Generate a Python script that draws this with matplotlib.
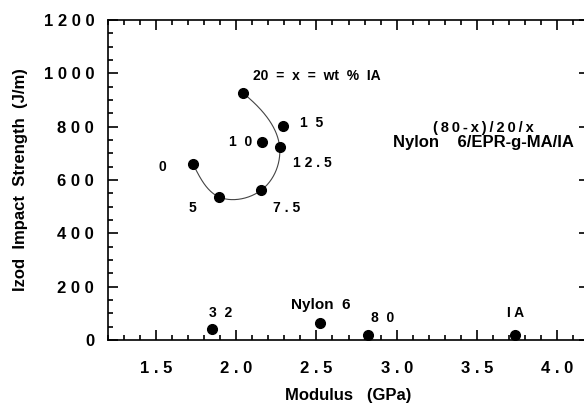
import numpy as np
import matplotlib
matplotlib.use('Agg')
import matplotlib.pyplot as plt

plt.rcParams['font.family'] = ['Liberation Sans', 'DejaVu Sans']
plt.rcParams['font.weight'] = 'bold'

# blends (80-x)/20/x, x = wt % IA
ia_content = [0, 5, 7.5, 10, 12.5, 15, 20]
blend_modulus = [1.73, 1.89, 2.156, 2.16, 2.27, 2.29, 2.04]
blend_impact = [660, 537, 562, 741, 725, 804, 927]
blend_labels = ['0', '5', '7 . 5', '1  0', '1 2 . 5', '1  5', '20  =  x  =  wt  %  IA']
blend_offsets = [(-31, -3), (-26, -11), (25, -18), (-21, 0), (33, -16), (29, 3), (10, 17)]

# reference materials
ref_names = ['3  2', 'Nylon  6', '8  0', 'I A']
ref_modulus = [1.85, 2.525, 2.82, 3.74]
ref_impact = [40, 65, 19, 19]
ref_offsets = [(8, 16), (0, 18), (15, 17), (0, 22)]

# compositions the hand-drawn trend curve goes through; it leaves 20 heading toward 15
curve_comp = [20, 12.5, 7.5, 5, 0]
curve_start_dir = (20, 15)

xticks = [1.5, 2.0, 2.5, 3.0, 3.5, 4.0]
yticks = [0, 200, 400, 600, 800, 1000, 1200]


def spaced(s):
    return ' '.join(s)


def spline(t, v, tt, d0):
    # cubic spline: clamped slope d0 at the start, natural at the end
    n = len(t)
    h = np.diff(t)
    A = np.zeros((n, n))
    b = np.zeros(n)
    A[0, 0], A[0, 1] = 2 * h[0], h[0]
    b[0] = 6 * ((v[1] - v[0]) / h[0] - d0)
    A[-1, -1] = 1
    for i in range(1, n - 1):
        A[i, i - 1] = h[i - 1]
        A[i, i] = 2 * (h[i - 1] + h[i])
        A[i, i + 1] = h[i]
        b[i] = 6 * ((v[i + 1] - v[i]) / h[i] - (v[i] - v[i - 1]) / h[i - 1])
    M = np.linalg.solve(A, b)
    k = np.clip(np.searchsorted(t, tt) - 1, 0, n - 2)
    hk = h[k]
    a = t[k + 1] - tt
    d = tt - t[k]
    return (M[k] * a ** 3 / (6 * hk) + M[k + 1] * d ** 3 / (6 * hk)
            + (v[k] / hk - M[k] * hk / 6) * a + (v[k + 1] / hk - M[k + 1] * hk / 6) * d)


fig = plt.figure(figsize=(5.84, 4.12), dpi=100)
ax = fig.add_axes([0.185, 0.1748, 0.8236, 0.7767])

# smooth trend curve, chord-length parameter in screen-like units
idx = [ia_content.index(c) for c in curve_comp]
sx, sy = 160.0, 1 / 3.75
vx = np.array([blend_modulus[i] for i in idx]) * sx
vy = np.array([blend_impact[i] for i in idx]) * sy
i0, i1 = (ia_content.index(c) for c in curve_start_dir)
dx = (blend_modulus[i1] - blend_modulus[i0]) * sx
dy = (blend_impact[i1] - blend_impact[i0]) * sy
norm = np.hypot(dx, dy)
t = np.concatenate([[0], np.cumsum(np.hypot(np.diff(vx), np.diff(vy)))])
tt = np.linspace(0, t[-1], 300)
ax.plot(spline(t, vx, tt, dx / norm) / sx, spline(t, vy, tt, dy / norm) / sy,
        color='#444444', lw=0.8, zorder=1)

ax.plot(blend_modulus, blend_impact, 'o', color='black', ms=7, zorder=2)
ax.plot(ref_modulus, ref_impact, 'o', color='black', ms=7, zorder=2)

for x, y, lab, off in zip(blend_modulus, blend_impact, blend_labels, blend_offsets):
    ha = 'left' if lab.startswith('20') else 'center'
    ax.annotate(lab, (x, y), xytext=off, textcoords='offset pixels',
                ha=ha, va='center', fontsize=10, fontweight='bold')
for x, y, lab, off in zip(ref_modulus, ref_impact, ref_names, ref_offsets):
    fs = 11 if lab.startswith('Nylon') else 10
    ax.annotate(lab, (x, y), xytext=off, textcoords='offset pixels',
                ha='center', va='center', fontsize=fs, fontweight='bold')

ax.text(3.54, 795, '\u2009'.join('(80-x)/20/x'), ha='center', va='center',
        fontsize=10.5, fontweight='bold')
ax.text(3.54, 739, 'Nylon    6/EPR-g-MA/IA', ha='center', va='center', fontsize=12, fontweight='bold')

ax.set_xlim(1.2, 4.2)
ax.set_ylim(0, 1200)
ax.set_xticks(xticks)
ax.set_xticklabels([spaced(f'{v:.1f}') for v in xticks])
ax.set_yticks(yticks)
ax.set_yticklabels([spaced(str(v)) for v in yticks])
ax.set_xticks(np.arange(1.2, 4.21, 0.1), minor=True)
ax.set_yticks(np.arange(0, 1201, 50), minor=True)
ax.tick_params(which='both', direction='in', top=True, right=True, width=1.2)
ax.tick_params(which='major', length=7, labelsize=12)
ax.tick_params(axis='x', which='major', pad=15)
ax.tick_params(axis='y', which='major', pad=10)
ax.tick_params(which='minor', length=3.5)
for lab in ax.get_xticklabels() + ax.get_yticklabels():
    lab.set_fontweight('bold')
for sp in ax.spines.values():
    sp.set_linewidth(1.2)

ax.set_xlabel('Modulus   (GPa)', fontsize=12, fontweight='bold', labelpad=9)
ax.set_ylabel('Izod  Impact  Strength  (J/m)', fontsize=12, fontweight='bold', labelpad=11)

fig.savefig('out.png', dpi=100)
